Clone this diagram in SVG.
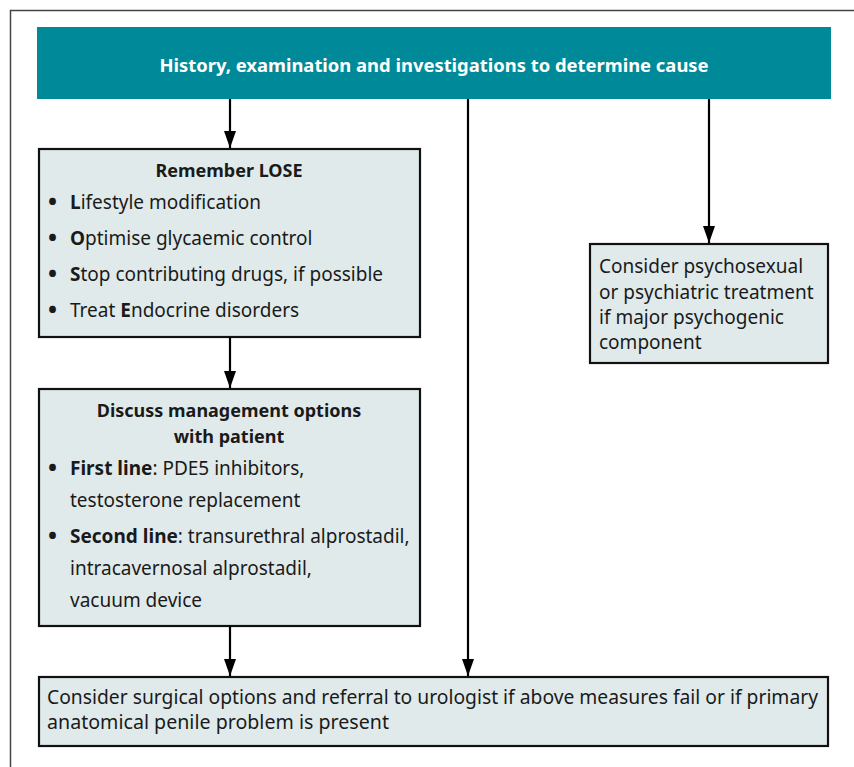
<svg xmlns="http://www.w3.org/2000/svg" width="854" height="767" viewBox="0 0 854 767">
<style>
.box{fill:#e0eaeb;stroke:#111;stroke-width:2.2}
.t{font-family:"Noto Sans","Open Sans",sans-serif;font-size:19px;fill:#1a1a1a}
.h{font-weight:bold;font-size:18px}
.b{font-weight:bold}
.c{text-anchor:middle}
.dot{font-family:"Noto Sans",sans-serif;font-size:24px;font-weight:bold;fill:#1a1a1a}
.conn line{stroke:#000;stroke-width:2.2}
</style>
<defs>
<marker id="ah" markerWidth="17" markerHeight="12" refX="17" refY="6" orient="auto" markerUnits="userSpaceOnUse" viewBox="0 0 17 12">
<path d="M0,0 L17,6 L0,12 Z" fill="#000"/>
</marker>
</defs>
<rect x="0" y="0" width="854" height="767" fill="#fff"/>
<path d="M10.5,767 V10.5 H854" fill="none" stroke="#444" stroke-width="1.5"/>
<g id="top">
<rect x="37" y="27" width="794" height="72" fill="#008a99"/>
<text class="t c" x="434" y="72" style="fill:#fff;font-size:18.4px;font-weight:bold">History, examination and investigations to determine cause</text>
</g>
<g id="lose">
<rect class="box" x="39" y="149" width="381" height="188"/>
<text class="t h c" x="229" y="177">Remember LOSE</text>
<text class="dot" x="48" y="210">•</text><text class="t" x="70" y="209"><tspan class="b">L</tspan>ifestyle modification</text>
<text class="dot" x="48" y="246">•</text><text class="t" x="70" y="245"><tspan class="b">O</tspan>ptimise glycaemic control</text>
<text class="dot" x="48" y="282">•</text><text class="t" x="70" y="281"><tspan class="b">S</tspan>top contributing drugs, if possible</text>
<text class="dot" x="48" y="318">•</text><text class="t" x="70" y="317">Treat <tspan class="b">E</tspan>ndocrine disorders</text>
</g>
<g id="discuss">
<rect class="box" x="39" y="389" width="381" height="237"/>
<text class="t h c" x="229" y="417">Discuss management options</text>
<text class="t h c" x="229" y="443">with patient</text>
<text class="dot" x="48" y="476">•</text><text class="t" x="70" y="475"><tspan class="b">First line</tspan>: PDE5 inhibitors,</text>
<text class="t" x="70" y="507">testosterone replacement</text>
<text class="dot" x="48" y="544">•</text><text class="t" x="70" y="543"><tspan class="b">Second line</tspan>: transurethral alprostadil,</text>
<text class="t" x="70" y="575">intracavernosal alprostadil,</text>
<text class="t" x="70" y="607">vacuum device</text>
</g>
<g id="psych">
<rect class="box" x="590" y="244" width="238" height="119"/>
<text class="t" x="599" y="273">Consider psychosexual</text>
<text class="t" x="599" y="299">or psychiatric treatment</text>
<text class="t" x="599" y="324">if major psychogenic</text>
<text class="t" x="599" y="349">component</text>
</g>
<g id="surgical">
<rect class="box" x="39" y="677" width="789" height="69"/>
<text class="t" x="47" y="704" textLength="771" lengthAdjust="spacingAndGlyphs">Consider surgical options and referral to urologist if above measures fail or if primary</text>
<text class="t" x="47" y="729" textLength="342" lengthAdjust="spacingAndGlyphs">anatomical penile problem is present</text>
</g>
<g class="conn">
<line x1="230" y1="99" x2="230" y2="148" marker-end="url(#ah)"/>
<line x1="230" y1="337" x2="230" y2="388" marker-end="url(#ah)"/>
<line x1="230" y1="626" x2="230" y2="676" marker-end="url(#ah)"/>
<line x1="468" y1="99" x2="468" y2="676" marker-end="url(#ah)"/>
<line x1="709" y1="99" x2="709" y2="243" marker-end="url(#ah)"/>
</g>
</svg>
